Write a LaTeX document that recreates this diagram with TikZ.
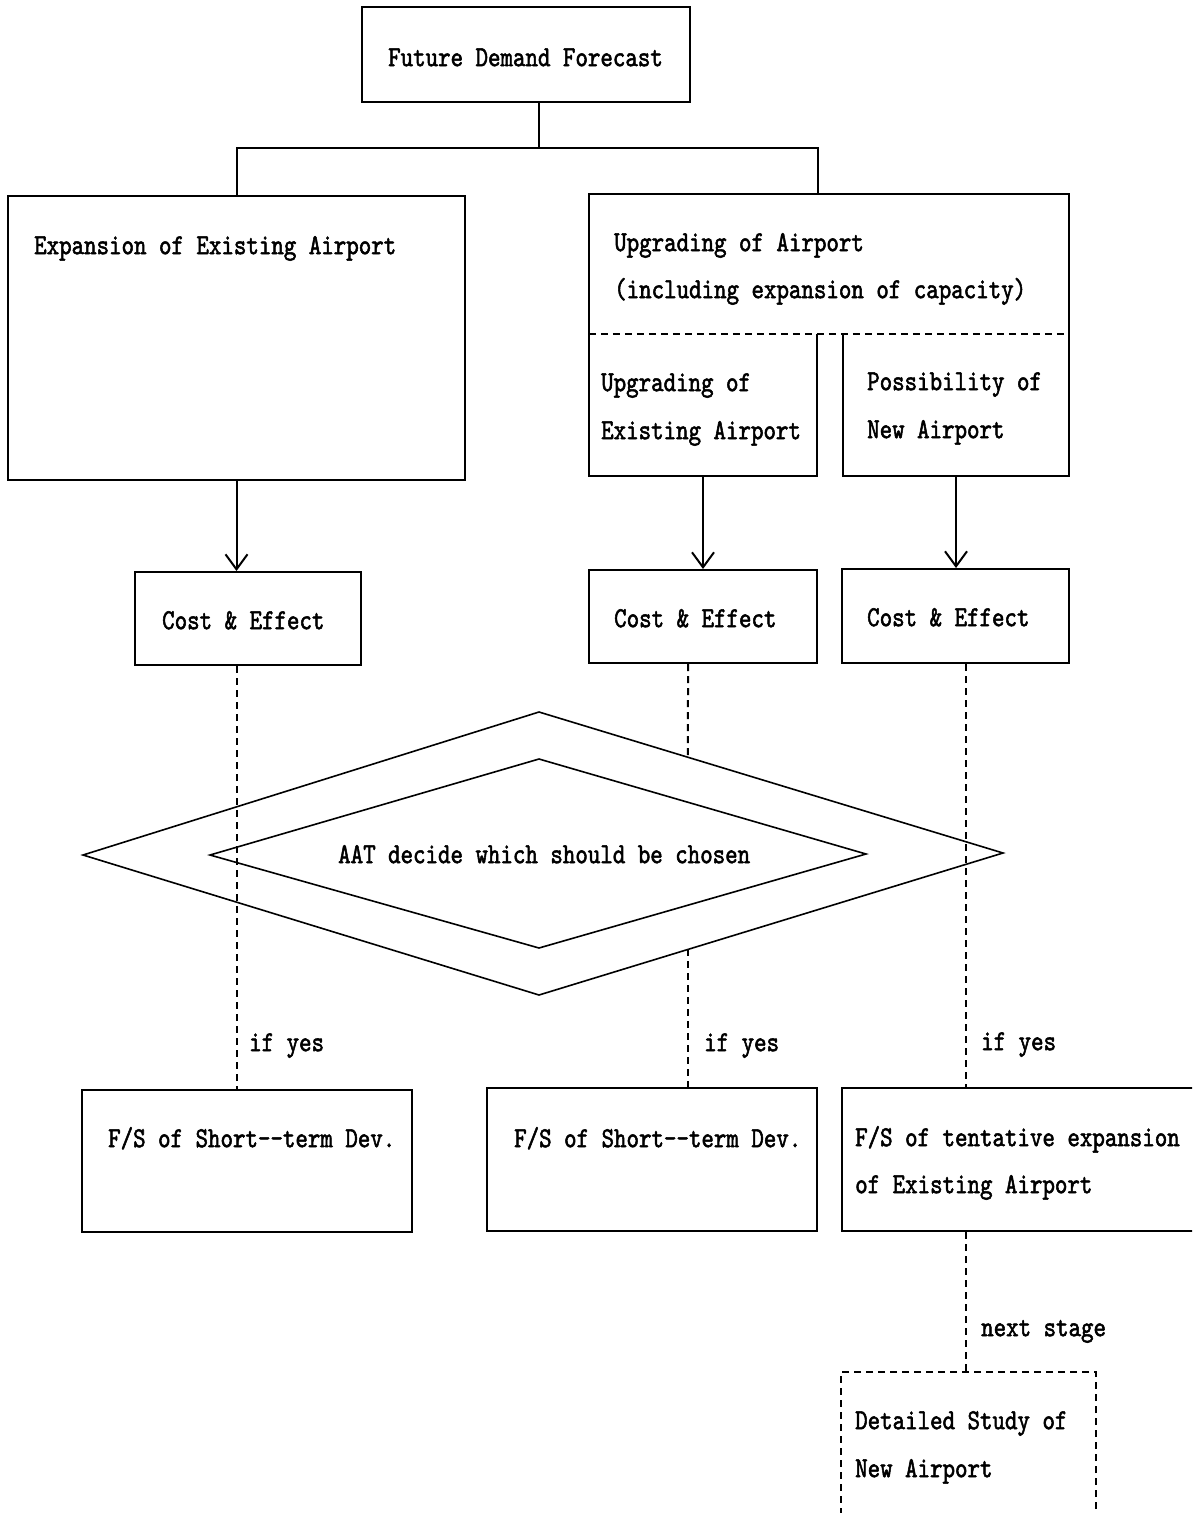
\documentclass[tikz,border=0pt]{standalone}
\usepackage{fontspec}
\newfontfamily\dfont{lmmono10-regular.otf}[FakeBold=1.8,FakeStretch=0.82]
\usetikzlibrary{arrows.meta,fit,calc}
\tikzset{
  box/.style={draw, line width=2pt, inner sep=0pt},
  area/.style={inner sep=0pt},
  txt/.style={inner sep=0pt, anchor=mid west, font=\dfont\fontsize{29}{33}\selectfont},
  solidline/.style={line width=2pt},
  dashline/.style={line width=2pt, dash pattern=on 7pt off 5pt},
  arr/.style={line width=2pt, -{Straight Barb[length=15pt,width=22pt]}},
}
\begin{document}
\begin{tikzpicture}[x=1pt,y=-1pt]
\clip (0,0) rectangle (1192,1513);
\fill[white] (0,0) rectangle (1192,1513);

% boxes
\node[box, fit={(362,7) (690,102)}] (fdf) {};
\node[box, fit={(8,196) (465,480)}] (exp) {};
\node[area, fit={(589,194) (1069,334)}] (upg) {};
\node[area, fit={(589,334) (817,476)}] (sub1) {};
\node[area, fit={(843,334) (1069,476)}] (sub2) {};
\node[box, fit={(135,572) (361,665)}] (cost1) {};
\node[box, fit={(589,570) (817,663)}] (cost2) {};
\node[box, fit={(842,569) (1069,663)}] (cost3) {};
\node[box, fit={(82,1090) (412,1232)}] (fs1) {};
\node[box, fit={(487,1088) (817,1231)}] (fs2) {};
\node[box, fit={(842,1088) (1215,1231)}] (fs3) {};
\node[box, dashline, fit={(841,1372) (1096,1530)}] (det) {};

% upgrading box edges
\draw[solidline] (upg.south west) |- (upg.north east) -- (upg.south east);
\draw[dashline] (upg.south west) -- (upg.south east);
\draw[solidline] (sub1.north west) |- (sub1.south east) -- (sub1.north east);
\draw[solidline] (sub2.north west) |- (sub2.south east) -- (sub2.north east);

% diamonds
\coordinate (dT) at (539,712);
\coordinate (dR) at (1003,853);
\coordinate (dB) at (539,995);
\coordinate (dL) at (83,855);
\draw[solidline, line width=1.6pt] (dT) -- (dR) -- (dB) -- (dL) -- cycle;
\coordinate (iT) at (539,759);
\coordinate (iR) at (866,854);
\coordinate (iB) at (539,948);
\coordinate (iL) at (210,855);
\draw[solidline, line width=1.6pt] (iT) -- (iR) -- (iB) -- (iL) -- cycle;

% tree connectors
\coordinate (split) at (539,148);
\draw[solidline] (fdf.south -| split) -- (split);
\draw[solidline] (exp.north) |- (split) -| ($(upg.north)+(-11,0)$);

% arrows
\draw[arr] (exp.south) -- (exp.south |- cost1.north);
\draw[arr] (sub1.south) -- (sub1.south |- cost2.north);
\draw[arr] (sub2.south) -- (sub2.south |- cost3.north);

% dashed connectors
\draw[dashline] (exp.south |- cost1.south) -- (exp.south |- fs1.north);
\coordinate (m2) at ($(cost2.south)+(-15,0)$);
\draw[dashline] (m2) -- (intersection of m2--{$(m2)+(0,100)$} and dT--dR);
\draw[dashline] (intersection of m2--{$(m2)+(0,100)$} and dB--dR) -- (m2 |- fs2.north);
\coordinate (m3) at ($(cost3.south)+(10.5,0)$);
\draw[dashline] (m3) -- (m3 |- fs3.north);
\draw[dashline] (m3 |- fs3.south) -- (m3 |- det.north);

% texts
\node[txt] (tfdf) at (388,64) {Future Demand Forecast};
\node[txt] (texp) at (34,252) {Expansion of Existing Airport};
\node[txt] (tupg1) at (614,249) {Upgrading of Airport};
\node[txt] (tupg2) at (614,296) {(including expansion of capacity)};
\node[txt] (ts1a) at (601,389) {Upgrading of};
\node[txt] (ts1b) at (601,437) {Existing Airport};
\node[txt] (ts2a) at (867,388) {Possibility of};
\node[txt] (ts2b) at (867,436) {New Airport};
\node[txt] (tc1) at (162,627) {Cost \& Effect};
\node[txt] (tc2) at (614,625) {Cost \& Effect};
\node[txt] (tc3) at (867,624) {Cost \& Effect};
\node[txt] (tdec) at (338,861) {AAT decide which should be chosen};
\node[txt] (ty1) at (249,1049) {if yes};
\node[txt] (ty2) at (704,1049) {if yes};
\node[txt] (ty3) at (981,1048) {if yes};
\node[txt] (tf1) at (108,1145) {F/S of Short-{}-term Dev.};
\node[txt] (tf2) at (514,1145) {F/S of Short-{}-term Dev.};
\node[txt] (tf3a) at (855,1144) {F/S of tentative expansion};
\node[txt] (tf3b) at (855,1191) {of Existing Airport};
\node[txt] (tns) at (981,1334) {next stage};
\node[txt] (tda) at (855,1427) {Detailed Study of};
\node[txt] (tdb) at (855,1475) {New Airport};
\end{tikzpicture}
\end{document}
